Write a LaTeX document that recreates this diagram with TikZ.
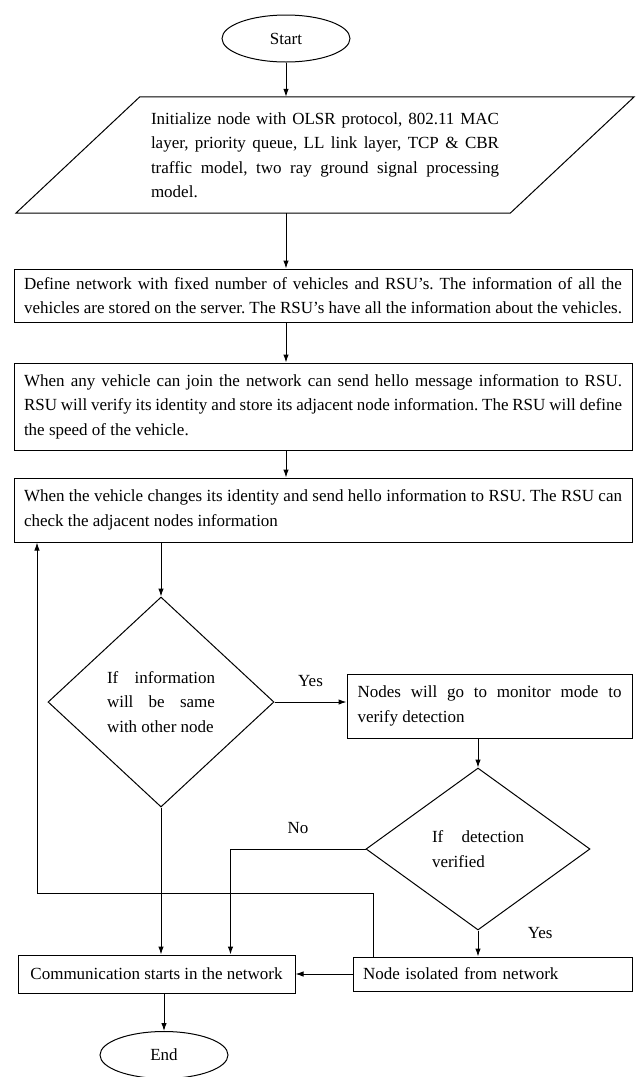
\documentclass[tikz,border=0pt]{standalone}
\usepackage{fontspec}
\setmainfont{Liberation Serif}
\usetikzlibrary{shapes.geometric, arrows.meta}
\frenchspacing

\tikzset{
  words/.style={font=\fontsize{17}{24.5}\selectfont},
  chart/.style={draw, line width=1pt, words},
  stepbox/.style={chart, rectangle, align=justify, inner sep=0pt},
  term/.style={chart, ellipse, minimum width=128pt, minimum height=47pt, inner sep=0pt},
  ask/.style={chart, diamond, align=justify, inner sep=1pt},
  flow/.style={line width=1pt, -{Latex[length=8pt,width=5.5pt]}},
  tag/.style={font=\fontsize{17}{20}\selectfont}
}

\begin{document}
\begin{tikzpicture}[x=1pt, y=-1pt]
    \useasboundingbox (0,0) rectangle (637,1077);
    \node [term] (start) at (286,38.5) {Start};
    \node [words, text width=348pt, align=justify, inner xsep=11pt, inner ysep=0pt, minimum height=116pt] (init) at (325,155) {Initialize node with OLSR protocol, 802.11 MAC \linebreak layer, priority queue, LL link layer, TCP \& CBR \linebreak traffic model, two ray ground signal processing \linebreak model.};
    \draw [line width=1pt] ([xshift=-124pt]init.south west) -- (init.north west) -- ([xshift=124pt]init.north east) -- (init.south east) -- cycle;
    \node [stepbox, text width=598pt, minimum width=618pt, minimum height=53pt] (net) at (323,295.5) {Define network with fixed number of vehicles and RSU's. The information of all the \linebreak vehicles are stored on the server. The RSU's have all the information about the vehicles.};
    \node [stepbox, text width=598pt, minimum width=618pt, minimum height=87pt] (join) at (323,406.5) {When any vehicle can join the network can send hello message information to RSU. \linebreak RSU will verify its identity and store its adjacent node information. The RSU will define \linebreak the speed of the vehicle.};
    \node [stepbox, text width=598pt, minimum width=618pt, minimum height=64pt] (change) at (323,510) {When the vehicle changes its identity and send hello information to RSU. The RSU can \linebreak check the adjacent nodes information};
    \node [ask, text width=108pt, minimum width=226pt, minimum height=210pt] (same) at (161,702) {If information \linebreak will be same \linebreak with other node};
    \node [stepbox, text width=264pt, minimum width=285pt, minimum height=64pt] (monitor) at (489.5,706) {Nodes will go to monitor mode to \linebreak verify detection};
    \node [ask, text width=92pt, minimum width=224pt, minimum height=162pt] (detect) at (478,849) {If detection \linebreak verified};
    \node [chart, minimum width=277pt, minimum height=38pt, inner sep=0pt] (comm) at (156.5,974) {Communication starts in the network};
    \node [chart, text width=259pt, minimum width=279pt, minimum height=34pt, inner sep=0pt, align=left] (isolate) at (492.5,974) {Node isolated from network};
    \node [term] (stop) at (164,1055) {End};
    \coordinate (back) at (37,893);

    \draw [flow] (start.south) -- (start.south |- init.north);
    \draw [flow] (init.south -| start) -- (net.north -| start);
    \draw [flow] (net.south -| start) -- (join.north -| start);
    \draw [flow] (join.south -| start) -- (change.north -| start);
    \draw [flow] (change.south -| same) -- (same.north);
    \draw [flow] (same.east) -- node [tag, above=12pt] {Yes} (same.east -| monitor.west);
    \draw [flow] (monitor.south -| detect) -- (detect.north);
    \draw [flow] (detect.west) -| node [tag, pos=0.25, above=12pt] {No} ([xshift=213pt]comm.north west);
    \draw [flow] (detect.south) -- node [tag, right=46pt, yshift=10pt] {Yes} (detect.south |- isolate.north);
    \draw [flow] (same.south) -- (same.south |- comm.north);
    \draw [flow] (isolate.west) -- (comm.east);
    \draw [flow] (comm.south -| stop) -- (stop.north);
    \draw [flow] ([xshift=21pt]isolate.north west) |- (back) -- (back |- change.south);
  \end{tikzpicture}
\end{document}
